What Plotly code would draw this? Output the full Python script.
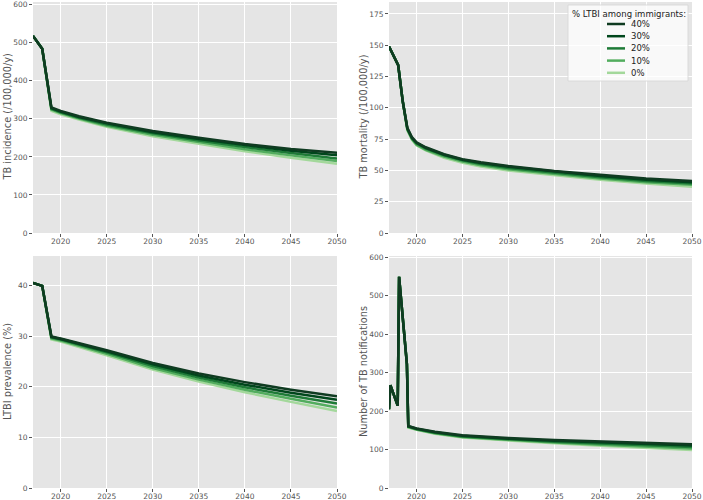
import plotly.graph_objects as go
from plotly.subplots import make_subplots

# scenario labels and colours (0% drawn first so the dark lines sit on top)
SCENARIOS = ["0%", "10%", "20%", "30%", "40%"]
COLORS = {"0%": "#a3d89b", "10%": "#52ad5e", "20%": "#1e7b37", "30%": "#00471c", "40%": "#0f3b21"}
LEGEND_TITLE = "% LTBI among immigrants:"

# TB incidence (/100,000/y)
inc_years = [2017, 2018, 2019, 2020, 2022, 2025, 2030, 2035, 2040, 2045, 2050]
inc = {
    "40%": [518, 484, 330, 321, 307, 290, 268, 250, 234, 221, 211],
    "30%": [518, 484, 328, 319, 305, 288, 265, 247, 231, 216, 204],
    "20%": [518, 484, 326, 317, 303, 285, 262, 243, 226, 210, 196],
    "10%": [518, 484, 324, 315, 301, 282, 258, 238, 220, 204, 189],
    "0%":  [518, 484, 321, 312, 298, 279, 254, 234, 215, 198, 182],
}

# TB mortality (/100,000/y)
mort_years = [2017, 2018, 2018.5, 2019, 2019.5, 2020, 2021, 2022, 2023, 2025, 2027, 2030, 2035, 2040, 2045, 2050]
mort = {
    "40%": [149, 134, 105, 84, 76.5, 72.5, 68.5, 65.5, 63, 59, 56.5, 53.5, 49.5, 46.5, 43.5, 41.5],
    "30%": [149, 134, 105, 83.5, 76, 72, 68, 65, 62.5, 58.5, 56, 53, 49, 45.5, 42.5, 40.5],
    "20%": [149, 134, 105, 83, 75.5, 71.5, 67.5, 64.5, 62, 58, 55, 52, 48, 44.5, 41.5, 39.5],
    "10%": [149, 134, 105, 82.5, 75, 70.5, 66.5, 63.5, 61, 57, 54, 51, 47, 43.5, 40.5, 38.5],
    "0%":  [149, 134, 105, 82, 74.5, 70, 66, 63, 60, 56, 53, 50, 46, 42.5, 39.5, 37],
}

# LTBI prevalence (%)
ltbi_years = [2017, 2018, 2019, 2020, 2025, 2030, 2035, 2040, 2045, 2050]
ltbi = {
    "40%": [40.5, 39.9, 29.9, 29.5, 27.2, 24.7, 22.6, 20.9, 19.4, 18.1],
    "30%": [40.5, 39.9, 29.8, 29.4, 27.0, 24.4, 22.2, 20.4, 18.8, 17.4],
    "20%": [40.5, 39.9, 29.7, 29.3, 26.8, 24.1, 21.8, 19.9, 18.2, 16.7],
    "10%": [40.5, 39.9, 29.5, 29.1, 26.5, 23.7, 21.4, 19.4, 17.6, 15.9],
    "0%":  [40.5, 39.9, 29.3, 28.9, 26.2, 23.4, 21.0, 18.9, 17.0, 15.2],
}

# Number of TB notifications
notif_years = [2017, 2017.15, 2017.95, 2018.1, 2018.95, 2019.1, 2020, 2022, 2025, 2030, 2035, 2040, 2045, 2050]
notif_hist = [205, 267, 214, 549, 322]
notif = {
    "40%": notif_hist + [161, 155, 146, 137, 130, 125, 121, 117, 114],
    "30%": notif_hist + [160.5, 154, 145, 135.5, 128, 122.5, 118, 114, 110.5],
    "20%": notif_hist + [159.5, 153, 143.5, 134, 126.5, 120.5, 115.5, 110.5, 106.5],
    "10%": notif_hist + [158.5, 152, 142, 132.5, 124.5, 118, 112.5, 107, 102.5],
    "0%":  notif_hist + [157, 151, 141, 131, 123, 116, 110, 104, 99],
}

W, H = 703, 500
FONT = "DejaVu Sans"
GREY = "#555555"

fig = make_subplots(rows=2, cols=2)

panels = [
    (1, 1, inc_years, inc),
    (1, 2, mort_years, mort),
    (2, 1, ltbi_years, ltbi),
    (2, 2, notif_years, notif),
]
for row, col, years, data in panels:
    for s in SCENARIOS:
        fig.add_trace(
            go.Scatter(
                x=years, y=data[s], mode="lines", name=s,
                line=dict(color=COLORS[s], width=2.5),
                showlegend=False,
            ),
            row=row, col=col,
        )

# plot area positions in pixels (left, right / top, bottom)
xdom = {1: (33, 337), 2: (389, 692)}
ydom = {1: (2, 233), 2: (256, 488)}
yranges = {(1, 1): [0, 607], (1, 2): [0, 184.5], (2, 1): [0, 45.8], (2, 2): [0, 603]}
ydticks = {(1, 1): 100, (1, 2): 25, (2, 1): 10, (2, 2): 100}

axis_style = dict(
    showgrid=True, gridcolor="white", gridwidth=1, zeroline=False,
    showline=False, ticks="outside", ticklen=3, tickcolor=GREY,
    tickfont=dict(family=FONT, size=7.5, color=GREY), automargin=False,
)
for row in (1, 2):
    for col in (1, 2):
        fig.update_xaxes(
            domain=[xdom[col][0] / W, xdom[col][1] / W],
            range=[2017, 2050], tick0=2020, dtick=5, ticklabelstandoff=-2,
            **axis_style, row=row, col=col,
        )
        fig.update_yaxes(
            domain=[1 - ydom[row][1] / H, 1 - ydom[row][0] / H],
            range=yranges[(row, col)], tick0=0, dtick=ydticks[(row, col)],
            **axis_style, row=row, col=col,
        )

ylabels = [
    (7, 1, "TB incidence (/100,000/y)"),
    (363, 1, "TB mortality (/100,000/y)"),
    (7, 2, "LTBI prevalence (%)"),
    (363, 2, "Number of TB notifications"),
]
for xpx, row, text in ylabels:
    fig.add_annotation(
        x=xpx / W, y=1 - (ydom[row][0] + ydom[row][1]) / 2 / H,
        xref="paper", yref="paper", text=text, textangle=-90,
        showarrow=False, xanchor="center", yanchor="middle",
        font=dict(family=FONT, size=9.8, color=GREY),
    )

# legend box in the mortality panel (matplotlib-style compact legend)
px = lambda v: v / W
py = lambda v: 1 - v / H
fig.add_shape(
    type="rect", xref="paper", yref="paper",
    x0=px(568), x1=px(688), y0=py(81), y1=py(5),
    fillcolor="rgba(255,255,255,0.78)", line=dict(color="rgba(215,215,215,0.9)", width=1),
    layer="above",
)
fig.add_annotation(
    x=px(629), y=py(13.5), xref="paper", yref="paper", text=LEGEND_TITLE,
    showarrow=False, xanchor="center", yanchor="middle",
    font=dict(family=FONT, size=8.5, color="#222222"),
)
for i, s in enumerate(reversed(SCENARIOS)):
    yy = 24 + i * 12.2
    fig.add_shape(
        type="line", xref="paper", yref="paper",
        x0=px(607), x1=px(625), y0=py(yy), y1=py(yy),
        line=dict(color=COLORS[s], width=2.5), layer="above",
    )
    fig.add_annotation(
        x=px(629), y=py(yy), xref="paper", yref="paper", text=s,
        showarrow=False, xanchor="left", yanchor="middle",
        font=dict(family=FONT, size=8.5, color="#222222"),
    )

fig.update_layout(
    width=W, height=H,
    margin=dict(l=0, r=0, t=0, b=0),
    paper_bgcolor="white",
    plot_bgcolor="#e5e5e5",
    font=dict(family=FONT, color=GREY),
    showlegend=False,
)

# the page's default body margin would push the figure 8px right/down
fig.write_html(
    "out.html",
    config={"displayModeBar": False},
    post_script="document.body.style.margin='0';document.body.style.overflow='hidden';",
)
